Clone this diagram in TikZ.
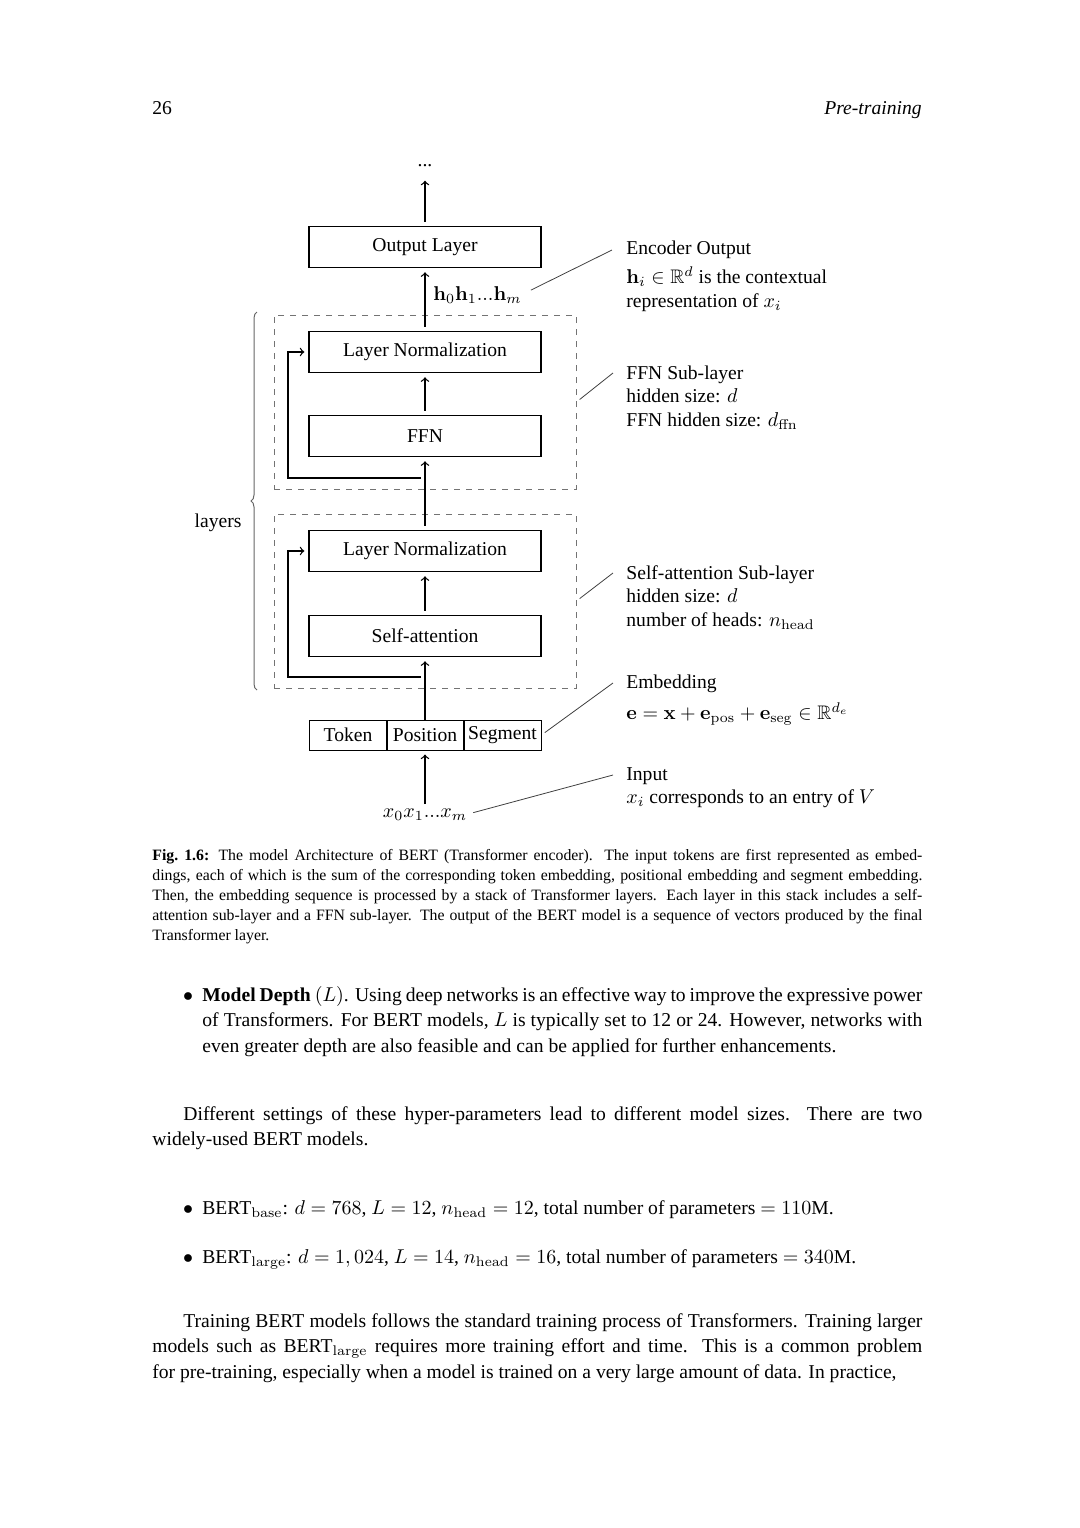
\documentclass[tikz,border=0pt]{standalone}
\usepackage{amsmath,amssymb}
\usepackage[no-math]{fontspec}
\setmainfont{Liberation Serif}
\usetikzlibrary{decorations.pathreplacing}

\newcommand{\pagesize}{\fontsize{9.8}{12.75}\selectfont}
\newcommand{\capsize}{\fontsize{7.9}{10}\selectfont}
\newcommand{\notesize}{\fontsize{9.8}{11.75}\selectfont}

\tikzset{
  block/.style={draw, line width=0.65pt, minimum width=116pt, minimum height=20.6pt, inner sep=0pt, font=\pagesize},
  embbox/.style={draw, line width=0.5pt, minimum height=15pt, minimum width=38.5pt, inner sep=0pt, font=\pagesize},
  txt/.style={inner sep=0pt, font=\pagesize},
  note/.style={align=left, inner sep=0pt, font=\notesize},
  pointer/.style={draw=black!75, line width=0.4pt},
  sublayer/.style={draw=black!55, dashed, line width=0.5pt, minimum width=151pt, minimum height=87pt, inner sep=0pt},
  flow/.style={->, line width=0.65pt, shorten <=2pt, shorten >=2pt},
}

\begin{document}
\begin{tikzpicture}[x=0.5pt, y=-0.5pt]
\useasboundingbox (0,0) rectangle (1080,1528);

% running head
\node (pgnum) at (152,114) [txt, anchor=base west] {26};
\node (runhead) at (922,114) [txt, anchor=base east] {\itshape Pre-training};

% encoder stack
\node (dots) at (425,166) [txt, anchor=base] {...};
\node (outlayer) at (425,247) [block] {Output Layer};
\node (ffnsub) at (425,402) [sublayer] {};
\node (attsub) at (425,601) [sublayer] {};
\node (ln1) at (425,352) [block] {Layer Normalization};
\node (ffn) at (425,436) [block] {FFN};
\node (ln2) at (425,551) [block] {Layer Normalization};
\node (att) at (425,636) [block] {Self-attention};
\node (pos) at (425,735) [embbox] {Position};
\node (tok) at (348,735) [embbox, minimum width=39pt] {Token};
\node (seg) at (502.5,735) [embbox] {\raisebox{1pt}{Segment}};
\node (xin) at (425,817) [txt, anchor=base] {$x_0x_1...x_m$};
\node (hout) at (433,300) [txt, anchor=base west] {$\mathbf{h}_0\mathbf{h}_1...\mathbf{h}_m$};

\draw[flow, shorten >=7pt] (outlayer) -- (dots);
\draw[flow] (ln1) -- (outlayer);
\draw[flow] (ffn) -- (ln1);
\draw[flow] (ln2) -- (ffn);
\draw[flow] (att) -- (ln2);
\draw[flow, shorten <=0pt] (pos) -- (att);
\draw[flow] (xin) -- (pos);

% residual connections
\coordinate (res1) at (421,478);
\coordinate (res2) at (421,677);
\draw[->, line width=0.65pt, shorten >=2pt] (res1) -- ++(-133,0) |- (ln1.west);
\draw[->, line width=0.65pt, shorten >=2pt] (res2) -- ++(-133,0) |- (ln2.west);

% layers brace
\draw[black!60, line width=0.5pt, decorate, decoration={brace, amplitude=3pt}] (257,690) -- (257,312);
\node (layers) at (218,523) [txt] {layers};

% notes on the right
\node (encnote) at (626,240) [note, anchor=north west] {Encoder Output\\[3pt] $\mathbf{h}_i\in\mathbb{R}^d$ is the contextual\\ representation of $x_i$};
\node (ffnnote) at (626,365) [note, anchor=north west] {FFN Sub-layer\\ hidden size: $d$\\ FFN hidden size: $d_{\mathrm{ffn}}$};
\node (attnote) at (626,565) [note, anchor=north west] {Self-attention Sub-layer\\ hidden size: $d$\\ number of heads: $n_{\mathrm{head}}$};
\node (embnote) at (626,674) [note, anchor=north west] {Embedding\\[4pt] $\mathbf{e}=\mathbf{x}+\mathbf{e}_{\mathrm{pos}}+\mathbf{e}_{\mathrm{seg}}\in\mathbb{R}^{d_e}$};
\node (innote) at (626,767) [note, anchor=north west] {Input\\ $x_i$ corresponds to an entry of $V$};

\coordinate (encend) at (612,250);
\coordinate (ffnend) at (613,373);
\coordinate (attend) at (613,573);
\coordinate (embend) at (613,683);
\coordinate (inend) at (613,775);
\draw[pointer, shorten <=5pt] (hout.east) -- (encend);
\draw[pointer, shorten <=2pt] (ffnsub.east) -- (ffnend);
\draw[pointer, shorten <=2pt] (attsub.east) -- (attend);
\draw[pointer, shorten <=2pt] (seg.east) -- (embend);
\draw[pointer, shorten <=3pt] (xin.east) -- (inend);

% caption
\node (caption) at (152,860) [anchor=base west, text width=385pt, align=justify, inner sep=0pt, font=\capsize] {\textbf{Fig.\ 1.6:} The model Architecture of BERT (Transformer encoder). The input tokens are first represented as embed-\linebreak dings, each of which is the sum of the corresponding token embedding, positional embedding and segment embedding.\linebreak Then, the embedding sequence is processed by a stack of Transformer layers. Each layer in this stack includes a self-\linebreak attention sub-layer and a FFN sub-layer. The output of the BERT model is a sequence of vectors produced by the final\linebreak Transformer layer.};

% body text
\node (bul1) at (188,1001) [txt, anchor=base] {$\bullet$};
\node (depth) at (202,1001) [txt, anchor=base west, text width=360pt, align=justify] {\textbf{Model Depth} $(L)$. Using deep networks is an effective way to improve the expressive power\linebreak of Transformers. For BERT models, $L$ is typically set to 12 or 24. However, networks with\linebreak even greater depth are also feasible and can be applied for further enhancements.};
\node (sizes) at (152,1120) [txt, anchor=base west, text width=385pt, align=justify] {\hspace*{15.5pt}Different settings of these hyper-parameters lead to different model sizes. There are two\linebreak widely-used BERT models.};
\node (bul2) at (188,1214) [txt, anchor=base] {$\bullet$};
\node (bertbase) at (202,1214) [txt, anchor=base west] {BERT$_{\mathrm{base}}$: $d=768$, $L=12$, $n_{\mathrm{head}}=12$, total number of parameters $=110$M.};
\node (bul3) at (188,1263) [txt, anchor=base] {$\bullet$};
\node (bertlarge) at (202,1263) [txt, anchor=base west] {BERT$_{\mathrm{large}}$: $d=1,024$, $L=14$, $n_{\mathrm{head}}=16$, total number of parameters $=340$M.};
\node (training) at (152,1327) [txt, anchor=base west, text width=385pt, align=justify] {\parfillskip=0pt\hspace*{15.5pt}Training BERT models follows the standard training process of Transformers. Training larger\linebreak models such as BERT$_{\mathrm{large}}$ requires more training effort and time. This is a common problem\linebreak for pre-training, especially when a model is trained on a very large amount of data. In practice,};
\end{tikzpicture}
\end{document}
